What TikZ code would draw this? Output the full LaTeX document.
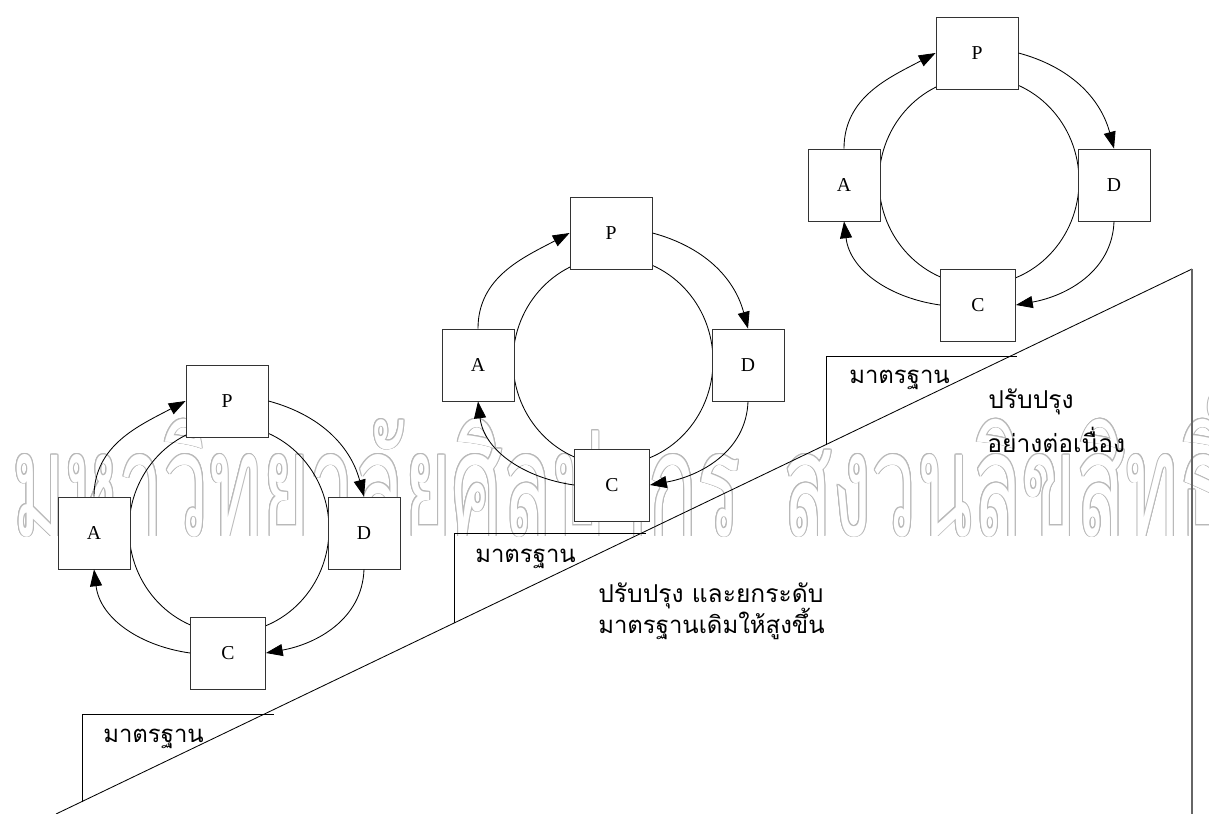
\documentclass[tikz,border=0pt]{standalone}
\usepackage{fontspec}
\usepackage{graphicx}
\setmainfont{Liberation Serif}
\newfontfamily\thai[Script=Thai]{Loma}
\usetikzlibrary{arrows.meta,calc}
\newlength\wmw
\newlength\wmh
\begin{document}
\settowidth\wmw{\thai\fontsize{100}{100}\selectfont มหาวิทยาลัยศิลปากร}
\settoheight\wmh{\thai\fontsize{100}{100}\selectfont ม}
\pgfmathsetmacro\wmsx{517.84/\wmw}
\pgfmathsetmacro\wmsy{58.33/\wmh}
\newcommand\wmtext[1]{\scalebox{\wmsx}[\wmsy]{\thai\fontsize{100}{100}\selectfont #1}}
\newcommand\pdca[2]{%
\begin{scope}[shift={#2}]
  \draw[cyc] (229,529) ellipse [x radius=2.5cm, y radius=2.6cm];
  \node[pbox, minimum width=2.05cm] (P#1) at (227,401) {P};
  \node[pbox] (A#1) at (94,533) {A};
  \node[pbox] (D#1) at (364,533) {D};
  \node[pbox, minimum width=1.875cm] (C#1) at (228,653) {C};
  \draw[arr] (A#1.north) to[out=90,in=208] (P#1.west);
  \draw[arr] (P#1.east) to[out=-15,in=105] (D#1.north);
  \draw[arr] (D#1.south) to[out=-92,in=10] (C#1.east);
  \draw[arr] (C#1.west) to[out=172,in=-83] (A#1.south);
\end{scope}}
\begin{tikzpicture}[x=0.025cm,y=-0.025cm,
  pbox/.style={draw=black!80, fill=white, line width=0.6pt, minimum width=1.8cm, minimum height=1.8cm, inner sep=0pt, font=\fontsize{14}{16}\selectfont},
  cyc/.style={draw=black, line width=0.6pt},
  arr/.style={draw=black, line width=0.6pt, -{Triangle[length=0.42cm,width=0.3cm]}},
  lbl/.style={inner sep=0pt, anchor=base west, font=\thai\fontsize{17}{20}\selectfont},
  txt/.style={inner sep=0pt, anchor=base west, font=\thai\fontsize{17.5}{20}\selectfont},
  wm/.style={inner sep=0pt, anchor=base west}]
\clip (0,0) rectangle (1209,814);
\fill[white] (0,0) rectangle (1209,814);
% watermark
\foreach \ang in {0,30,...,330}{
  \node[wm, text=gray!55] (wma\ang) at ($(12,536)+(\ang:0.7pt)$) {\wmtext{มหาวิทยาลัยศิลปากร}};
  \node[wm, text=gray!55] (wmb\ang) at ($(783,536)+(\ang:0.7pt)$) {\wmtext{สงวนลิขสิทธิ์}};
}
\node[wm, text=white] (wm1) at (12,536) {\wmtext{มหาวิทยาลัยศิลปากร}};
\node[wm, text=white] (wm2) at (783,536) {\wmtext{สงวนลิขสิทธิ์}};
% staircase
\coordinate (d0) at (56,814);
\coordinate (d1) at (1192,269);
\coordinate (vb) at (1192,814);
\draw[line width=0.6pt] (d0) -- (d1);
\draw[black!60, line width=1.3pt] (d1) -- (vb);
\coordinate (l1a) at (82,802); \coordinate (l1b) at (82,714); \coordinate (l1c) at (274,714);
\coordinate (l2a) at (454,623); \coordinate (l2b) at (454,533); \coordinate (l2c) at (646,533);
\coordinate (l3a) at (826,445); \coordinate (l3b) at (826,356); \coordinate (l3c) at (1017,356);
\draw[line width=0.6pt] (l1a) -- (l1b) -- (l1c);
\draw[line width=0.6pt] (l2a) -- (l2b) -- (l2c);
\draw[line width=0.6pt] (l3a) -- (l3b) -- (l3c);
\node[lbl] (m1) at (103,742) {มาตรฐาน};
\node[lbl] (m2) at (475,562) {มาตรฐาน};
\node[lbl] (m3) at (849,383) {มาตรฐาน};
\node[txt] (t1) at (598,602) {ปรับปรุง และยกระดับ};
\node[txt, font=\thai\fontsize{17}{20}\selectfont] (t2) at (598,633) {มาตรฐานเดิมให้สูงขึ้น};
\node[txt] (t3) at (988,408) {ปรับปรุง};
\node[txt] (t4) at (987,452) {อย่างต่อเนื่อง};
% cycles
\pdca{1}{(0,0)}
\pdca{2}{(384,-168)}
\pdca{3}{(750,-348)}
\end{tikzpicture}
\end{document}
